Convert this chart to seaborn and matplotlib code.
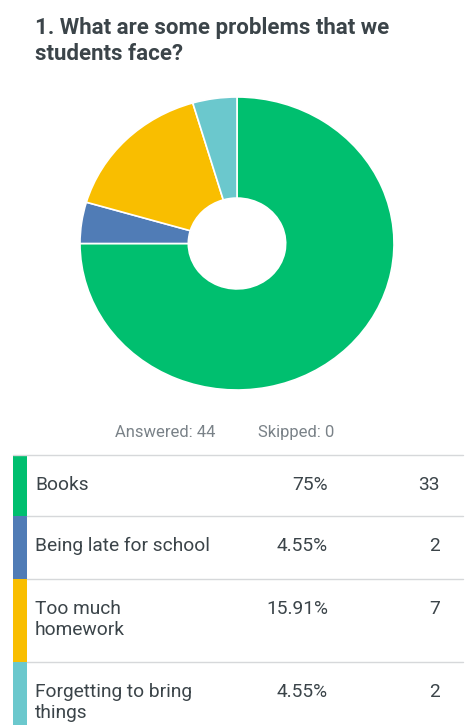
import matplotlib
matplotlib.use("Agg")
import matplotlib.pyplot as plt
import seaborn as sns

sns.set_theme(style="white")
plt.rcParams['font.family'] = ['Roboto', 'DejaVu Sans']

title_lines = ["1. What are some problems that we", "students face?"]
categories = ["Books", "Being late for school", "Too much\nhomework", "Forgetting to bring\nthings"]
percents = [75.0, 4.55, 15.91, 4.55]
pct_labels = ["75%", "4.55%", "15.91%", "4.55%"]
counts = [33, 2, 7, 2]
answered = 44
skipped = 0
colors = ["#00BF6F", "#507CB6", "#F9BE00", "#6BC8CD"]

W, H = 470, 725
fig = plt.figure(figsize=(W / 100, H / 100), dpi=100)
fig.patch.set_facecolor("white")

bg = fig.add_axes([0, 0, 1, 1])
bg.set_xlim(0, W)
bg.set_ylim(H, 0)
bg.axis("off")

for j, line in enumerate(title_lines):
    bg.text(35, 28 + 26 * j, line, fontsize=16, fontweight="bold", color="#3b4449",
            va="center", ha="left")

# Donut
pie_ax = fig.add_axes([80 / W, 1 - 390 / H, 314 / W, 293 / H])
pie_ax.pie(counts, colors=colors, startangle=90, counterclock=False,
           wedgeprops=dict(width=0.69, edgecolor="white", linewidth=1.2))
pie_ax.set_aspect("auto")
pie_ax.set_xlim(-1, 1)
pie_ax.set_ylim(-1, 1)

bg.text(115, 432, f"Answered: {answered}", fontsize=12, color="#7a8288",
        ha="left", va="center")
bg.text(258, 432, f"Skipped: {skipped}", fontsize=12, color="#7a8288",
        ha="left", va="center")

# Table
row_edges = [455, 516, 579, 662, 730]
text_color = "#3b4449"
bg.plot([13, 463], [row_edges[0], row_edges[0]], color="#d6d8da", lw=1)
for i, cat in enumerate(categories):
    top, bot = row_edges[i], row_edges[i + 1]
    bg.fill_between([13, 27], [top, top], [bot, bot], color=colors[i], lw=0)
    if i < len(categories) - 1:
        bg.plot([27, 463], [bot, bot], color="#d6d8da", lw=1)
    y = top + 30
    for j, part in enumerate(cat.split("\n")):
        bg.text(35, y + 21 * j, part, fontsize=13.8, color=text_color,
                ha="left", va="center")
    bg.text(328, y, pct_labels[i], fontsize=13.8, color=text_color, ha="right", va="center")
    bg.text(440, y, str(counts[i]), fontsize=13.8, color=text_color, ha="right", va="center")

fig.savefig("out.png", dpi=100, facecolor="white")
